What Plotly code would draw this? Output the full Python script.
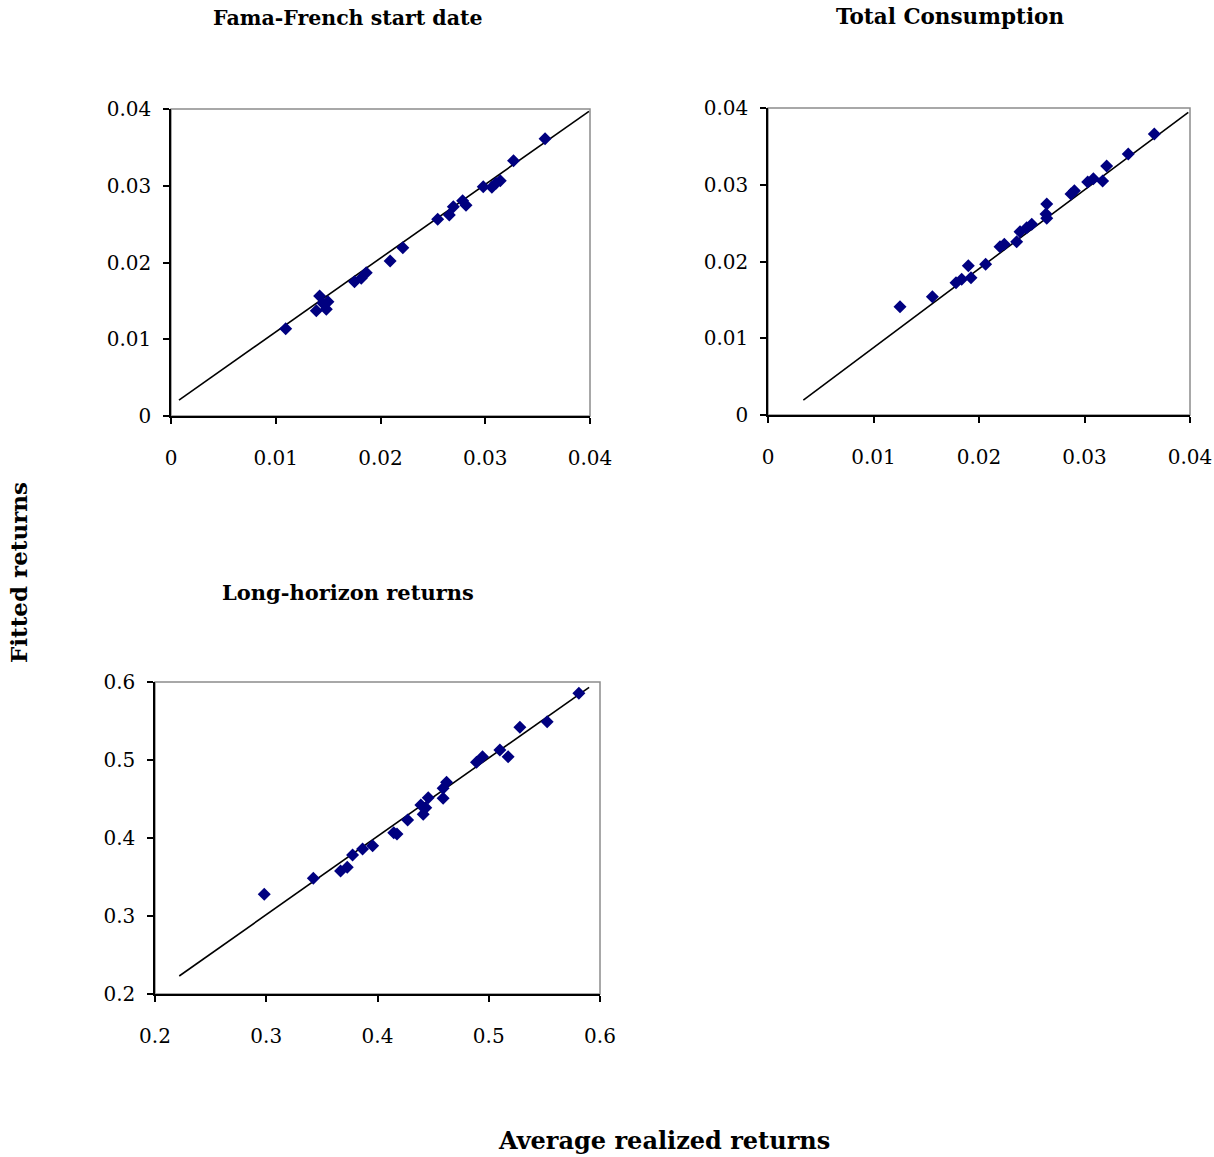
import plotly.graph_objects as go

# Panel 1: Fama-French start date
ff_x = [0.01095, 0.01419, 0.01387, 0.01483, 0.01498, 0.0145, 0.01752, 0.01816, 0.01864,
        0.02092, 0.02213, 0.02546, 0.02657, 0.02695, 0.02784, 0.02816, 0.02981, 0.03063,
        0.03143, 0.03102, 0.0327, 0.03571]
ff_y = [0.01137, 0.01563, 0.01372, 0.0139, 0.0149, 0.0147, 0.0175, 0.01794, 0.01868,
        0.0202, 0.02193, 0.02562, 0.02619, 0.02728, 0.02806, 0.02745, 0.02988, 0.0298,
        0.03066, 0.03031, 0.03327, 0.03613]
ff_line_x = [0.00076, 0.0399]
ff_line_y = [0.00208, 0.0397]

# Panel 2: Total Consumption
tc_x = [0.01251, 0.01558, 0.01782, 0.01836, 0.01899, 0.01924, 0.02063, 0.02199, 0.0224,
        0.02357, 0.02389, 0.02452, 0.025, 0.02642, 0.02642, 0.02635, 0.02872, 0.02904,
        0.0303, 0.03084, 0.03172, 0.0321, 0.03415, 0.03662]
tc_y = [0.01411, 0.01542, 0.01724, 0.01768, 0.01946, 0.01789, 0.01963, 0.02193, 0.02224,
        0.02258, 0.02388, 0.0244, 0.02485, 0.02749, 0.02563, 0.02619, 0.0288, 0.02922,
        0.03036, 0.03079, 0.03049, 0.03244, 0.03401, 0.03661]
tc_line_x = [0.00335, 0.03984]
tc_line_y = [0.00195, 0.03944]

# Panel 3: Long-horizon returns
lh_x = [0.2982, 0.3423, 0.3668, 0.3728, 0.3776, 0.3866, 0.3956, 0.4146, 0.4175, 0.4271,
        0.439, 0.4411, 0.4456, 0.4434, 0.459, 0.459, 0.4621, 0.489, 0.4944, 0.51, 0.5174,
        0.528, 0.5525, 0.581]
lh_y = [0.3278, 0.3483, 0.3577, 0.3624, 0.3782, 0.3859, 0.3901, 0.4068, 0.4051, 0.4231,
        0.4423, 0.4304, 0.4517, 0.4389, 0.4509, 0.4637, 0.4714, 0.497, 0.5042, 0.5128,
        0.5042, 0.5419, 0.5491, 0.5855]
lh_line_x = [0.2218, 0.5902]
lh_line_y = [0.2231, 0.5932]

titles = ["Fama-French start date", "Total Consumption", "Long-horizon returns"]
x_title = "Average realized returns"
y_title = "Fitted returns"

W, H = 1214, 1157
FONT = "DejaVu Serif"
MARK = "#000080"

def px(v):
    return v / W

def py(v):
    return 1 - v / H

def dx(a, b):
    return [px(a), px(b)]

def dy(top, bottom):
    return [py(bottom), py(top)]

panels = [
    dict(x=ff_x, y=ff_y, lx=ff_line_x, ly=ff_line_y, dom_x=dx(171, 590), dom_y=dy(109, 416),
         rng=[0, 0.04], dt=0.01, title=titles[0], tx=348, ty=18, tsize=20.5),
    dict(x=tc_x, y=tc_y, lx=tc_line_x, ly=tc_line_y, dom_x=dx(768, 1190), dom_y=dy(108, 415),
         rng=[0, 0.04], dt=0.01, title=titles[1], tx=950, ty=17, tsize=21.5),
    dict(x=lh_x, y=lh_y, lx=lh_line_x, ly=lh_line_y, dom_x=dx(155, 600), dom_y=dy(682, 994),
         rng=[0.2, 0.6], dt=0.1, title=titles[2], tx=348, ty=592, tsize=21),
]

fig = go.Figure()
annotations = []
shapes = []
for i, p in enumerate(panels, start=1):
    xa = "x" if i == 1 else f"x{i}"
    ya = "y" if i == 1 else f"y{i}"
    fig.add_trace(go.Scatter(x=p["lx"], y=p["ly"], mode="lines",
                             line=dict(color="black", width=1.6),
                             xaxis=xa, yaxis=ya, showlegend=False, hoverinfo="skip"))
    fig.add_trace(go.Scatter(x=p["x"], y=p["y"], mode="markers",
                             marker=dict(symbol="diamond", size=10, color=MARK,
                                         line=dict(width=0)),
                             xaxis=xa, yaxis=ya, showlegend=False))
    axcommon = dict(range=p["rng"], dtick=p["dt"], tick0=p["rng"][0], showgrid=False,
                    zeroline=False, showline=True, linecolor="black", linewidth=1.5,
                    ticks="outside", ticklen=6, tickcolor="black", tickwidth=1.5,
                    tickfont=dict(family=FONT, size=20, color="black"), mirror=False)
    fig.update_layout(**{
        ("xaxis" if i == 1 else f"xaxis{i}"): dict(domain=p["dom_x"], anchor=ya, ticklabelstandoff=17, **axcommon),
        ("yaxis" if i == 1 else f"yaxis{i}"): dict(domain=p["dom_y"], anchor=xa, ticklabelstandoff=8, **axcommon),
    })
    shapes.append(dict(type="rect", xref="paper", yref="paper",
                       x0=p["dom_x"][0], x1=p["dom_x"][1], y0=p["dom_y"][0], y1=p["dom_y"][1],
                       line=dict(color="#8c8c8c", width=1.5), layer="below"))
    annotations.append(dict(text=f"<b>{p['title']}</b>", x=px(p["tx"]), y=py(p["ty"]),
                            xref="paper", yref="paper", showarrow=False,
                            xanchor="center", yanchor="middle",
                            font=dict(family=FONT, size=p["tsize"], color="black")))

annotations.append(dict(text=f"<b>{x_title}</b>", x=px(664), y=py(1140), xref="paper",
                        yref="paper", showarrow=False, xanchor="center", yanchor="middle",
                        font=dict(family=FONT, size=24, color="black")))
annotations.append(dict(text=f"<b>{y_title}</b>", x=px(18), y=py(573), xref="paper",
                        yref="paper", showarrow=False, xanchor="center", yanchor="middle",
                        textangle=-90, font=dict(family=FONT, size=23, color="black")))

fig.update_layout(width=W, height=H,
                  margin=dict(l=0, r=0, t=0, b=0, pad=0, autoexpand=False),
                  paper_bgcolor="white", plot_bgcolor="white",
                  annotations=annotations, shapes=shapes)

fig.write_html("out.html", config={"displayModeBar": False},
               post_script="document.body.style.margin='0';document.body.style.overflow='hidden';")
